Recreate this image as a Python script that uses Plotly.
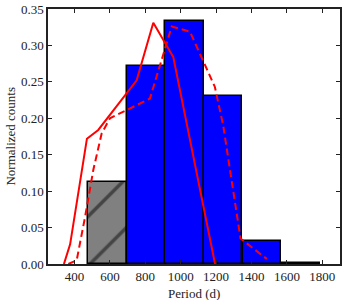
import plotly.graph_objects as go

# Histogram bins (left edges, width) and normalized counts
bin_left = [477, 695, 913, 1131, 1350, 1568]
bin_width = 218
counts = [0.112, 0.272, 0.334, 0.231, 0.031, 0.002]
bar_colors = ["#808080", "#0000ff", "#0000ff", "#0000ff", "#0000ff", "#0000ff"]
bar_patterns = ["/", "", "", "", "", ""]

# Solid red curve
solid_x = [340, 375, 470, 534, 751, 845, 958, 1194]
solid_y = [0.0, 0.027, 0.172, 0.184, 0.252, 0.331, 0.284, 0.0]

# Dashed red curve
dash_x = [365, 412, 459, 506, 553, 600, 826, 949, 1052, 1118, 1193, 1240, 1338, 1486]
dash_y = [0.0, 0.005, 0.064, 0.129, 0.179, 0.200, 0.227, 0.326, 0.319, 0.284, 0.243, 0.190, 0.035, 0.007]

x_ticks = [400, 600, 800, 1000, 1200, 1400, 1600, 1800]
y_ticks = [0.00, 0.05, 0.10, 0.15, 0.20, 0.25, 0.30, 0.35]
x_title = "Period (d)"
y_title = "Normalized counts"

font_family = "Liberation Serif, serif"
ink = "#222222"

fig = go.Figure()
fig.add_trace(go.Bar(
    x=bin_left, y=counts, width=[bin_width] * len(bin_left), offset=0,
    marker=dict(color=bar_colors, line=dict(color="black", width=1.5),
                pattern=dict(shape=bar_patterns, fgcolor="#000000", bgcolor="#808080",
                             fgopacity=1, fillmode="overlay", size=35, solidity=0.1)),
    showlegend=False,
))
fig.add_trace(go.Scatter(x=solid_x, y=solid_y, mode="lines",
                         line=dict(color="#ff0000", width=2), showlegend=False))
fig.add_trace(go.Scatter(x=dash_x, y=dash_y, mode="lines",
                         line=dict(color="#ff0000", width=2, dash="7px,4px"), showlegend=False))

axis_common = dict(showline=True, linecolor=ink, linewidth=1.5, mirror="ticks",
                   ticks="inside", ticklen=4, tickwidth=1, tickcolor=ink,
                   showgrid=False, zeroline=False, automargin=False,
                   tickfont=dict(family=font_family, size=13, color=ink))

fig.update_xaxes(range=[250, 1900], tickvals=x_ticks, ticktext=[str(v) for v in x_ticks],
                 **axis_common)
fig.update_yaxes(range=[0, 0.35], tickvals=y_ticks, ticktext=[f"{v:.2f}" for v in y_ticks],
                 **axis_common)

fig.add_annotation(text=x_title, xref="paper", yref="paper", x=0.5, y=-0.08,
                   xanchor="center", yanchor="top", showarrow=False,
                   font=dict(family=font_family, size=13, color=ink))
fig.add_annotation(text=y_title, xref="paper", yref="paper", x=-0.13, y=0.5,
                   xanchor="center", yanchor="middle", textangle=-90, showarrow=False,
                   font=dict(family=font_family, size=13, color=ink))

fig.update_layout(width=347, height=300, margin=dict(l=48, r=7, t=9, b=36),
                  plot_bgcolor="white", paper_bgcolor="white", bargap=0,
                  font=dict(family=font_family))

fig.write_html("out.html", config={"displayModeBar": False},
               post_script="document.body.style.margin='0';")
